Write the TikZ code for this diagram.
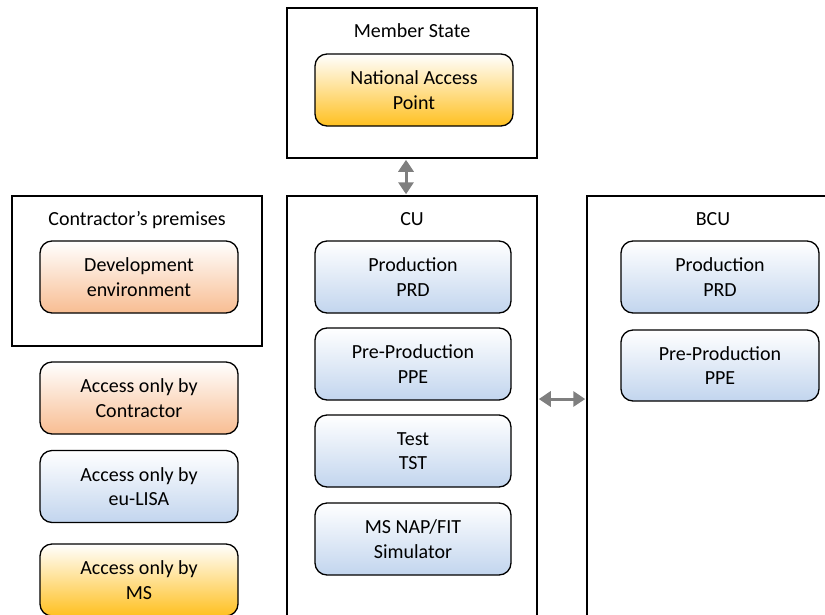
\documentclass[tikz,border=0pt]{standalone}
\usepackage{fontspec}
\setmainfont{Carlito}
\usetikzlibrary{arrows.meta}
\definecolor{peach}{HTML}{F8BD92}
\definecolor{lblue}{HTML}{C2D5EE}
\definecolor{gold}{HTML}{FFC020}
\definecolor{arrgray}{HTML}{7F7F7F}
\tikzset{
 frame/.style={draw=black, line width=1.5pt, fill=white, inner sep=0pt},
 env/.style={draw=black, line width=1.3pt, rounded corners=12pt, align=center, inner sep=0pt,
   minimum width=198pt, minimum height=72pt, top color=white},
 envO/.style={env, bottom color=peach},
 envB/.style={env, bottom color=lblue},
 envG/.style={env, bottom color=gold},
 title/.style={anchor=base, inner sep=0pt},
 dbl/.style={{Triangle[width=15pt,length=12pt]}-{Triangle[width=15pt,length=12pt]}, draw=arrgray, fill=arrgray, line width=3pt}
}
\begin{document}
\begin{tikzpicture}[x=1pt,y=-1pt, font=\fontsize{20}{24.4}\selectfont]
\useasboundingbox (0,0) rectangle (825,614);
% frames
\node[frame, minimum width=250pt, minimum height=150pt] (ms) at (412,83) {};
\node[frame, minimum width=250pt, minimum height=150pt] (cp) at (137,271) {};
\node[frame, minimum width=250pt, minimum height=444pt] (cu) at (412,418) {};
\node[frame, minimum width=273pt, minimum height=444pt] (bcu) at (723.5,418) {};
% titles
\node[title] (tms) at (412,37) {Member State};
\node[title] (tcp) at (137,225) {Contractor’s premises};
\node[title] (tcu) at (412,225) {CU};
\node[title] (tbcu) at (713,225) {BCU};
% inner boxes
\node[envG] (nap) at (414,90) {National Access\\Point};
\node[envO] (dev) at (139,277) {Development\\environment};
\node[envO] (lcon) at (139,398) {Access only by\\Contractor};
\node[envB] (llisa) at (139,486.5) {Access only by\\eu-LISA};
\node[envG] (lms) at (139,580) {Access only by\\MS};
\node[envB, minimum width=196pt] (prd) at (413,277) {Production\\PRD};
\node[envB, minimum width=196pt] (ppe) at (413,364) {Pre-Production\\PPE};
\node[envB, minimum width=196pt] (tst) at (413,451) {Test\\TST};
\node[envB, minimum width=196pt] (sim) at (413,539) {MS NAP/FIT\\Simulator};
\node[envB] (bprd) at (720,277) {Production\\PRD};
\node[envB, minimum height=71pt] (bppe) at (720,365.5) {Pre-Production\\PPE};
% arrows
\coordinate (hy) at (562,399);
\draw[dbl] ([xshift=-6pt,yshift=-1pt]ms.south) -- ([xshift=-6pt,yshift=1pt]cu.north);
\draw[dbl] ([xshift=1pt]cu.east |- hy) -- ([xshift=-1pt]bcu.west |- hy);
\end{tikzpicture}
\end{document}
